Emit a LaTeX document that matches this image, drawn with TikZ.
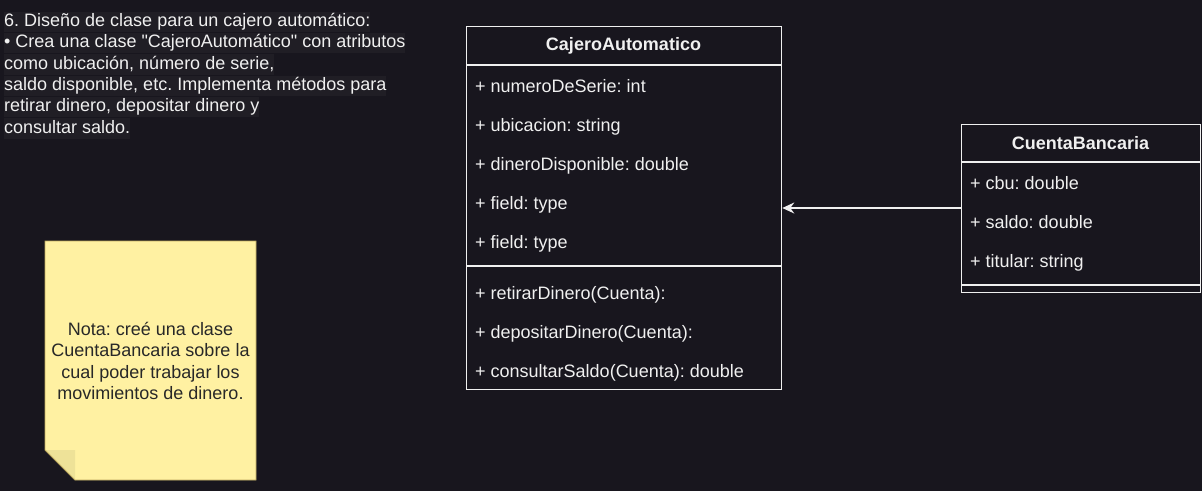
\documentclass[tikz,border=0pt]{standalone}
\usepackage{fontspec}
\setmainfont{Liberation Sans}[Ligatures=TeXOff]
\usetikzlibrary{arrows.meta}
\frenchspacing
\definecolor{bg}{RGB}{24,22,30}
\definecolor{hl}{RGB}{32,30,37}
\definecolor{fg}{RGB}{240,240,240}
\definecolor{notefill}{RGB}{255,241,162}
\definecolor{noteflap}{RGB}{238,226,152}
\definecolor{noteline}{RGB}{190,170,95}
\definecolor{notetext}{RGB}{40,40,40}
\tikzset{
  classbox/.style={draw=fg, line width=1.3pt, fill=bg, rectangle, inner sep=0pt, anchor=north west},
  sep/.style={draw=fg, line width=1.3pt},
  ctitle/.style={text=fg, font=\fontsize{18}{21.6}\selectfont\bfseries, inner sep=0pt},
  member/.style={text=fg, font=\fontsize{18}{21.6}\selectfont, inner sep=0pt, anchor=base west},
  intro/.style={text=fg, fill=hl, font=\fontsize{18}{21.6}\selectfont, inner xsep=0pt, inner ysep=1.5pt, text height=13.5pt, text depth=4pt, anchor=base west},
  notetxt/.style={text=notetext, font=\fontsize{18}{21.6}\selectfont, inner sep=0pt, anchor=base},
  assoc/.style={draw=fg, line width=1.3pt, -{Stealth[length=12pt,width=11pt,inset=4pt]}}
}
\begin{document}
\begin{tikzpicture}[x=1pt,y=-1pt]
\fill[bg] (0,0) rectangle (1202,491);
\useasboundingbox (0,0) rectangle (1202,491);

% intro text
\node[intro] (i1) at (4,26.6) {6. Diseño de clase para un cajero automático:};
\node[intro] (i2) at (4,47.9) {• Crea una clase "CajeroAutomático" con atributos};
\node[intro] (i3) at (4,69.2) {como ubicación, número de serie,};
\node[intro] (i4) at (4,90.5) {saldo disponible, etc. Implementa métodos para};
\node[intro] (i5) at (4,111.8) {retirar dinero, depositar dinero y};
\node[intro] (i6) at (4,133.1) {consultar saldo.};

% note
\fill[notefill] (45,241) -- (256,241) -- (256,480) -- (75,480) -- (45,450) -- cycle;
\fill[noteflap] (45,450) -- (75,450) -- (75,480) -- cycle;
\draw[noteline, line width=0.8pt] (45,241) -- (256,241) -- (256,480) -- (75,480) -- (45,450) -- cycle;
\node[notetxt] (n1) at (150.5,335) {Nota: creé una clase};
\node[notetxt] (n2) at (150.5,356.5) {CuentaBancaria sobre la};
\node[notetxt] (n3) at (150.5,378) {cual poder trabajar los};
\node[notetxt] (n4) at (150.5,399.5) {movimientos de dinero.};

% CajeroAutomatico
\node[classbox, minimum width=315pt, minimum height=363pt] (cajero) at (466,26) {};
\draw[sep] (466,65) -- (781,65);
\draw[sep] (466,266) -- (781,266);
\node[ctitle] (cajeroT) at (623.5,46) {CajeroAutomatico};
\node[member] (c1) at (475,92.5) {+ numeroDeSerie: int};
\node[member] (c2) at (475,131.5) {+ ubicacion: string};
\node[member] (c3) at (475,170) {+ dineroDisponible: double};
\node[member] (c4) at (475,209) {+ field: type};
\node[member] (c5) at (475,248) {+ field: type};
\node[member] (m1) at (475,299.5) {+ retirarDinero(Cuenta):};
\node[member] (m2) at (475,338) {+ depositarDinero(Cuenta):};
\node[member] (m3) at (475,377) {+ consultarSaldo(Cuenta): double};

% CuentaBancaria
\node[classbox, minimum width=239pt, minimum height=168pt] (cuenta) at (961,124) {};
\draw[sep] (961,162) -- (1200,162);
\draw[sep] (961,285) -- (1200,285);
\node[ctitle] (cuentaT) at (1080.5,143.5) {CuentaBancaria};
\node[member] (b1) at (970,189.5) {+ cbu: double};
\node[member] (b2) at (970,228.5) {+ saldo: double};
\node[member] (b3) at (970,267.5) {+ titular: string};

% association
\draw[assoc] (cuenta.west |- 0,208) -- (cajero.east |- 0,208);
\end{tikzpicture}
\end{document}
